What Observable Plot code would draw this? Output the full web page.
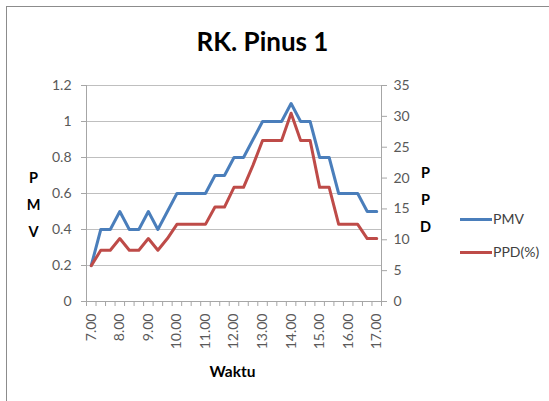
<!DOCTYPE html>
<html><head><meta charset="utf-8">
<script src="https://cdn.jsdelivr.net/npm/d3@7"></script>
<script src="https://cdn.jsdelivr.net/npm/@observablehq/plot@0.6"></script>
<style>
body{margin:0;width:549px;height:401px;overflow:hidden;background:#fff;position:relative;font-family:Lato,"Open Sans",sans-serif}
#frame{position:absolute;left:6px;top:6px;width:700px;height:600px;border:1.5px solid #8c8c8c;box-sizing:border-box}
#chart{position:absolute;left:0;top:0}
.lgline{position:absolute;width:32px;height:3px}
.lgtext{position:absolute;font-size:14px;color:#404040;line-height:16px}
</style></head>
<body>
<div id="frame"></div>
<div id="chart"></div>
<div id="legend"></div>
<script>
const title = "RK. Pinus 1";
const xTitle = "Waktu";
const leftTitle = "P\nM\nV";
const rightTitle = "P\nP\nD";
const times = ["7.00","7.20","7.40","8.00","8.20","8.40","9.00","9.20","9.40","10.00","10.20","10.40","11.00","11.20","11.40","12.00","12.20","12.40","13.00","13.20","13.40","14.00","14.20","14.40","15.00","15.20","15.40","16.00","16.20","16.40","17.00"];
const pmv = [0.2,0.4,0.4,0.5,0.4,0.4,0.5,0.4,0.5,0.6,0.6,0.6,0.6,0.7,0.7,0.8,0.8,0.9,1.0,1.0,1.0,1.1,1.0,1.0,0.8,0.8,0.6,0.6,0.6,0.5,0.5];
const ppd = [5.8,8.3,8.3,10.2,8.3,8.3,10.2,8.3,10.2,12.5,12.5,12.5,12.5,15.3,15.3,18.5,18.5,22.1,26.1,26.1,26.1,30.5,26.1,26.1,18.5,18.5,12.5,12.5,12.5,10.2,10.2];
const pmvTicks = [0,0.2,0.4,0.6,0.8,1,1.2];
const ppdTicks = [0,5,10,15,20,25,30,35];
const seriesNames = ["PMV","PPD(%)"];
const colors = ["#4a7ebb","#be4b48"];

const pmvMax = pmvTicks[pmvTicks.length-1], ppdMax = ppdTicks[ppdTicks.length-1];
const k = pmvMax/ppdMax;
const rows = times.map((t,i)=>({i, t, pmv: pmv[i], ppd: ppd[i]}));
const hourIdx = d3.range(0, times.length, 3);
const axisColor = "#a6a6a6";
const labelColor = "#595959";

const chart = Plot.plot({
  width: 549, height: 401,
  marginLeft: 86, marginRight: 168, marginTop: 85, marginBottom: 100,
  style: {fontFamily: "Lato, 'Open Sans', sans-serif", background: "transparent", overflow: "visible"},
  x: {domain: [-0.5, times.length - 0.5], axis: null},
  y: {domain: [0, pmvMax], axis: null},
  marks: [
    Plot.ruleY(pmvTicks.slice(1), {stroke: "#bfbfbf", strokeWidth: 1}),
    Plot.ruleX([-0.5, times.length - 0.5], {stroke: axisColor}),
    Plot.ruleY([0], {stroke: axisColor}),
    Plot.axisY(pmvTicks, {anchor: "left", tickSize: 5, tickPadding: 10, stroke: axisColor, fill: labelColor, fontSize: 14, label: null, tickFormat: d => String(d)}),
    Plot.axisY(ppdTicks.map(v => v * k), {anchor: "right", tickSize: 5, tickPadding: 7, stroke: axisColor, fill: labelColor, fontSize: 14, label: null, tickFormat: d => String(Math.round(d / k))}),
    Plot.axisX(d3.range(times.length + 1).map(i => i - 0.5), {anchor: "bottom", tickSize: 5, stroke: axisColor, label: null, tickFormat: () => ""}),
    Plot.axisX(hourIdx, {anchor: "bottom", tickSize: 0, tickPadding: 12, tickRotate: -90, fill: labelColor, fontSize: 14, label: null, tickFormat: i => times[i]}),
    Plot.line(rows, {x: "i", y: "pmv", stroke: colors[0], strokeWidth: 3}),
    Plot.line(rows, {x: "i", y: d => d.ppd * k, stroke: colors[1], strokeWidth: 3}),
    Plot.text([title], {frameAnchor: "top-left", dx: 262 - 86, dy: 42 - 85, textAnchor: "middle", lineAnchor: "middle", fontSize: 26, fontWeight: "bold", fill: "#000"}),
    Plot.text([xTitle], {frameAnchor: "bottom-left", dx: 232 - 86, dy: 372 - 301, textAnchor: "middle", lineAnchor: "middle", fontSize: 15.5, fontWeight: "bold", fill: "#000"}),
    Plot.text([leftTitle], {frameAnchor: "top-left", dx: 33 - 86, dy: 201 - 85, textAnchor: "middle", lineAnchor: "middle", lineHeight: 1.85, fontSize: 14.5, fontWeight: "bold", fill: "#000"}),
    Plot.text([rightTitle], {frameAnchor: "top-left", dx: 425 - 86, dy: 196 - 85, textAnchor: "middle", lineAnchor: "middle", lineHeight: 1.85, fontSize: 14.5, fontWeight: "bold", fill: "#000"})
  ]
});
document.getElementById("chart").appendChild(chart);

const legend = document.getElementById("legend");
const legendY = [219, 252];
seriesNames.forEach((name, j) => {
  const ln = document.createElement("div");
  ln.className = "lgline";
  ln.style.left = "460px"; ln.style.top = (legendY[j] - 1.5) + "px"; ln.style.background = colors[j];
  legend.appendChild(ln);
  const tx = document.createElement("div");
  tx.className = "lgtext";
  tx.style.left = "493px"; tx.style.top = (legendY[j] - 8) + "px";
  tx.textContent = name;
  legend.appendChild(tx);
});
</script>
</body></html>
